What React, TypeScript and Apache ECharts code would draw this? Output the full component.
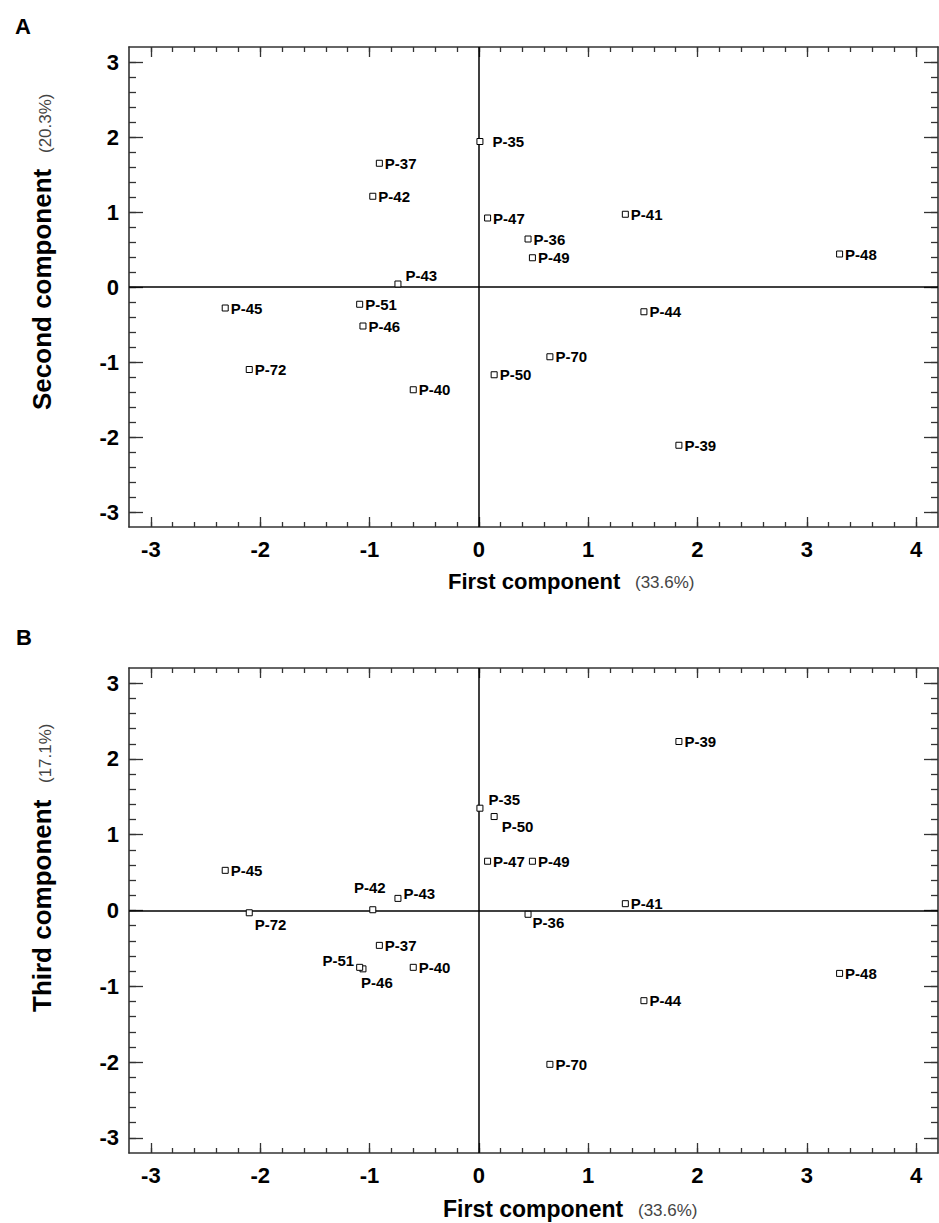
import React, { useEffect, useRef } from "react";
import * as echarts from "echarts";

const pointNames = ["P-35", "P-36", "P-37", "P-39", "P-40", "P-41", "P-42", "P-43", "P-44", "P-45", "P-46", "P-47", "P-48", "P-49", "P-50", "P-51", "P-70", "P-72"];
const firstComponent = [0.01, 0.45, -0.91, 1.83, -0.60, 1.34, -0.97, -0.74, 1.51, -2.32, -1.06, 0.08, 3.30, 0.49, 0.14, -1.09, 0.65, -2.10];
const secondComponent = [1.94, 0.64, 1.65, -2.11, -1.37, 0.97, 1.21, 0.04, -0.33, -0.28, -0.52, 0.92, 0.44, 0.39, -1.17, -0.23, -0.93, -1.10];
const thirdComponent = [1.35, -0.05, -0.46, 2.23, -0.75, 0.09, 0.01, 0.16, -1.19, 0.53, -0.77, 0.65, -0.83, 0.65, 1.24, -0.75, -2.03, -0.03];

const xTickLabels = [-3, -2, -1, 0, 1, 2, 3, 4];
const yTickLabels = [-3, -2, -1, 0, 1, 2, 3];

const FONT = "'Liberation Sans', Arial, Helvetica, sans-serif";

function steps(a: number, b: number, step: number) {
  const out: number[] = [];
  for (let i = Math.round(a / step); i <= Math.round(b / step); i++) out.push(+(i * step).toFixed(2));
  return out;
}
const xMinor = steps(-3, 4, 0.2);
const yMinor = steps(-3, 3, 0.2);

const labelA: Record<string, any> = {
  "P-35": { distance: 9 },
  "P-43": { distance: 4, offset: [0, -9] },
};
const labelB: Record<string, any> = {
  "P-72": { distance: 2, offset: [0, 12] },
  "P-42": { position: "top", distance: 5, offset: [-3, -6] },
  "P-43": { distance: 2, offset: [0, -5] },
  "P-35": { distance: 5, offset: [0, -9] },
  "P-50": { distance: 4, offset: [0, 10] },
  "P-36": { distance: 1, offset: [0, 8] },
  "P-51": { position: "left", distance: 2, offset: [0, -7] },
  "P-46": { position: "bottom", distance: 3, offset: [14, 0] },
};

const axisColor = "#333";

function makeAxes(g: number, horizontal: boolean) {
  const majors = horizontal ? xTickLabels : yTickLabels;
  const minors = horizontal ? xMinor : yMinor;
  const majorLen = horizontal ? 10 : 14;
  const minorLen = horizontal ? 5 : 7;
  const common: any = {
    gridIndex: g,
    type: "value",
    min: -3.2,
    max: horizontal ? 4.2 : 3.2,
    splitLine: { show: false },
    silent: true,
  };
  const lineStyle = { color: axisColor, width: 1.3 };
  const pos1 = horizontal ? "bottom" : "left";
  const pos2 = horizontal ? "top" : "right";
  const mk = (position: string, major: boolean, withLabel: boolean, withLine: boolean) => ({
    ...common,
    position,
    axisLine: { show: withLine, onZero: false, lineStyle: { color: axisColor, width: 1.6 } },
    axisTick: { show: true, inside: true, length: major ? majorLen : minorLen, customValues: major ? majors : minors, lineStyle },
    axisLabel: withLabel
      ? { show: true, customValues: majors, fontSize: 22, fontWeight: "bold", fontFamily: FONT, color: "#000", margin: horizontal ? 11 : 10 }
      : { show: false },
  });
  return [mk(pos1, true, true, true), mk(pos1, false, false, false), mk(pos2, true, false, true), mk(pos2, false, false, false)];
}

function makeSeries(g: number, ys: number[], overrides: Record<string, any>) {
  return {
    type: "scatter",
    xAxisIndex: g * 4,
    yAxisIndex: g * 4,
    symbol: "rect",
    symbolSize: 6,
    itemStyle: { color: "#fff", borderColor: "#000", borderWidth: 1, opacity: 1 },
    emphasis: { disabled: true },
    label: { show: true, position: "right", distance: 2, formatter: "{b}", fontFamily: FONT, fontWeight: "bold", fontSize: 15, color: "#000" },
    data: pointNames.map((n, i) => {
      const item: any = { name: n, value: [firstComponent[i], ys[i]] };
      if (overrides[n]) item.label = overrides[n];
      return item;
    }),
    markLine: {
      silent: true,
      symbol: "none",
      label: { show: false },
      lineStyle: { color: "#000", width: 1.5, type: "solid" },
      data: [{ xAxis: 0 }, { yAxis: 0 }],
    },
    z: 5,
  };
}

function txt(text: string, x: number, y: number, size: number, weight: string, color: string, rotate = false) {
  return {
    type: "text",
    x,
    y,
    rotation: rotate ? Math.PI / 2 : 0,
    silent: true,
    style: { text, fontSize: size, fontWeight: weight, fontFamily: FONT, fill: color, align: "left", verticalAlign: "middle" },
  };
}

export default function App() {
  const ref = useRef<HTMLDivElement>(null);
  useEffect(() => {
    if (!ref.current) return;
    const chart = echarts.init(ref.current, undefined, { renderer: "svg" });
    const option: any = {
      animation: false,
      backgroundColor: "#fff",
      grid: [
        { left: 129, top: 47, width: 809, height: 480 },
        { left: 129, top: 668, width: 809, height: 485 },
      ],
      xAxis: [...makeAxes(0, true), ...makeAxes(1, true)],
      yAxis: [...makeAxes(0, false), ...makeAxes(1, false)],
      series: [makeSeries(0, secondComponent, labelA), makeSeries(1, thirdComponent, labelB)],
      graphic: [
        txt("A", 15, 26, 22, "bold", "#000"),
        txt("B", 16, 637, 22, "bold", "#000"),
        txt("First component", 448, 581, 22, "bold", "#000"),
        txt("(33.6%)", 635, 582, 17, "normal", "#444"),
        txt("First component", 443, 1209, 23, "bold", "#000"),
        txt("(33.6%)", 638, 1210, 17, "normal", "#444"),
        txt("Second component", 42, 410, 26, "bold", "#000", true),
        txt("(20.3%)", 45, 153, 17, "normal", "#444", true),
        txt("Third component", 42, 1012, 26, "bold", "#000", true),
        txt("(17.1%)", 45, 783, 17, "normal", "#444", true),
      ],
    };
    chart.setOption(option);
    return () => chart.dispose();
  }, []);
  return <div ref={ref} style={{ position: "absolute", left: 0, top: 0, width: 939, height: 1223 }} />;
}
